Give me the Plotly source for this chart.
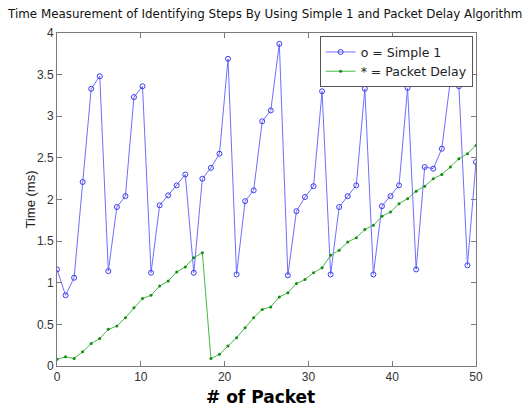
import numpy as np
import plotly.graph_objects as go

# x positions: 50 packets spread over 0..50 (MATLAB linspace)
n_points = 50
x_start, x_end = 0, 50

simple1 = [1.16, 0.85, 1.06, 2.21, 3.33, 3.48, 1.14, 1.91, 2.04, 3.23,
           3.36, 1.12, 1.93, 2.05, 2.17, 2.30, 1.12, 2.25, 2.38, 2.55,
           3.69, 1.10, 1.98, 2.11, 2.94, 3.07, 3.87, 1.09, 1.86, 2.03,
           2.16, 3.30, 1.10, 1.91, 2.04, 2.17, 3.33, 1.10, 1.92, 2.04,
           2.17, 3.34, 1.16, 2.39, 2.37, 2.61, 3.43, 3.36, 1.21, 2.45]

packet_delay = [0.08, 0.11, 0.09, 0.17, 0.27, 0.33, 0.44, 0.48, 0.58, 0.70,
                0.81, 0.85, 0.96, 1.02, 1.13, 1.19, 1.30, 1.36, 0.09, 0.14,
                0.24, 0.34, 0.46, 0.58, 0.68, 0.71, 0.83, 0.88, 0.99, 1.04,
                1.12, 1.18, 1.33, 1.39, 1.49, 1.54, 1.64, 1.69, 1.80, 1.85,
                1.95, 2.01, 2.10, 2.16, 2.25, 2.30, 2.39, 2.49, 2.55, 2.65]

x_ticks = [0, 10, 20, 30, 40, 50]
y_ticks = [0, 0.5, 1, 1.5, 2, 2.5, 3, 3.5, 4]

title_text = "Time Measurement of Identifying Steps By Using Simple 1 and Packet Delay Algorithm"
x_label = "# of Packet"
y_label = "Time (ms)"

x = np.linspace(x_start, x_end, n_points)

fig = go.Figure()
fig.add_trace(go.Scatter(
    x=x, y=simple1, mode="lines+markers", name="o = Simple 1",
    line=dict(color="rgb(110,110,255)", width=1),
    marker=dict(symbol="circle-open", size=5, color="rgb(60,60,240)", line=dict(width=1)),
))
fig.add_trace(go.Scatter(
    x=x, y=packet_delay, mode="lines+markers", name="* = Packet Delay",
    line=dict(color="rgb(70,185,70)", width=1),
    marker=dict(symbol="circle", size=3, color="rgb(20,140,20)"),
))

axis_common = dict(
    showline=True, mirror="ticks", linecolor="#7a7a7a", linewidth=1,
    ticks="inside", ticklen=5, tickcolor="#7a7a7a",
    showgrid=False, zeroline=False,
    tickfont=dict(family="Liberation Sans, Arial, sans-serif", size=12, color="#333333"),
)

fig.update_layout(
    width=524, height=407,
    margin=dict(l=57, r=48, t=33, b=41),
    paper_bgcolor="white", plot_bgcolor="white",
    showlegend=True,
    legend=dict(
        x=0.992, y=0.99, xanchor="right", yanchor="top",
        bordercolor="#555555", borderwidth=1, bgcolor="white",
        font=dict(family="DejaVu Sans, sans-serif", size=12.5, color="#222222"),
        tracegroupgap=0, itemwidth=30,
    ),
    xaxis=dict(range=[x_start, x_end], tickvals=x_ticks, **axis_common),
    yaxis=dict(range=[0, 4], tickvals=y_ticks, **axis_common),
    annotations=[
        dict(text=title_text, xref="paper", yref="paper", x=0.496, y=1.0,
             yshift=19, xanchor="center", yanchor="middle", showarrow=False,
             font=dict(family="DejaVu Sans, sans-serif", size=11.9, color="#111111")),
        dict(text="<b>" + x_label + "</b>", xref="paper", yref="paper", x=0.485, y=0,
             yshift=-31, xanchor="center", yanchor="middle", showarrow=False,
             font=dict(family="DejaVu Sans, sans-serif", size=17, color="#000000")),
        dict(text=y_label, xref="paper", yref="paper", x=0, y=0.5,
             xshift=-27, textangle=-90, xanchor="center", yanchor="middle", showarrow=False,
             font=dict(family="Liberation Sans, Arial, sans-serif", size=13, color="#222222")),
    ],
)

fig.write_html("out.html")
